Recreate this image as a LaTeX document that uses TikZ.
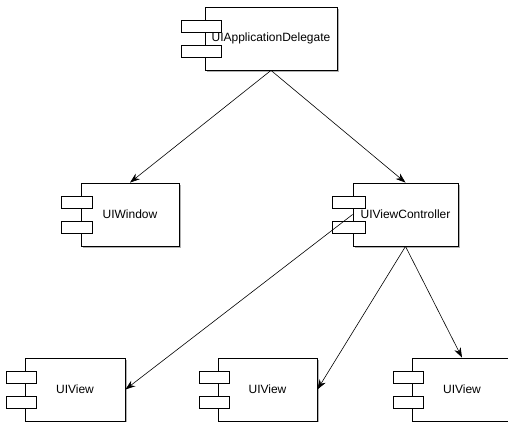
\documentclass[tikz,border=0pt]{standalone}
\usepackage{fontspec}
\setmainfont{Liberation Sans}
\usetikzlibrary{arrows.meta}
\usetikzlibrary{shadows}

\tikzset{
  component/.style={draw, fill=white, line width=0.8pt, minimum height=63pt, inner sep=0pt,
    font=\fontsize{12}{14}\selectfont,
    drop shadow={shadow xshift=2pt, shadow yshift=-2pt, opacity=0.5, fill=black!60}},
  tab/.style={draw, fill=white, line width=0.8pt},
  link/.style={-{Stealth[length=10pt,width=7pt]}, line width=0.6pt}
}

\begin{document}
\begin{tikzpicture}[x=1pt, y=-1pt]
\useasboundingbox (0,0) rectangle (508,422);
\node[component, minimum width=132pt] (app-delegate) at (271,38.5) {UIApplicationDelegate};
\node[component, minimum width=98pt] (window) at (130,214.5) {UIWindow};
\node[component, minimum width=105pt] (view-controller) at (405.5,214.5) {UIViewController};
\node[component, minimum width=100pt] (view-1) at (75,389.5) {UIView};
\node[component, minimum width=99pt] (view-2) at (267.5,389.5) {UIView};
\node[component, minimum width=100pt] (view-3) at (462,389.5) {UIView};
\foreach \n/\w/\l in {app-delegate/40/23, window/31/19, view-controller/33/20,
                      view-1/30/18, view-2/30/18, view-3/30/18}
{
  \draw[tab] (\n.west) ++(-\l,-18.5) rectangle ++(\w,12);
  \draw[tab] (\n.west) ++(-\l,6.5) rectangle ++(\w,12);
}
\draw[link] (app-delegate.south) -- (window.north);
\draw[link] (app-delegate.south) -- (view-controller.north);
\draw[link] (view-controller.west) -- (view-1.east);
\draw[link] (view-controller.south) -- (view-2.east);
\draw[link] (view-controller.south) -- (view-3.north);
\end{tikzpicture}
\end{document}
